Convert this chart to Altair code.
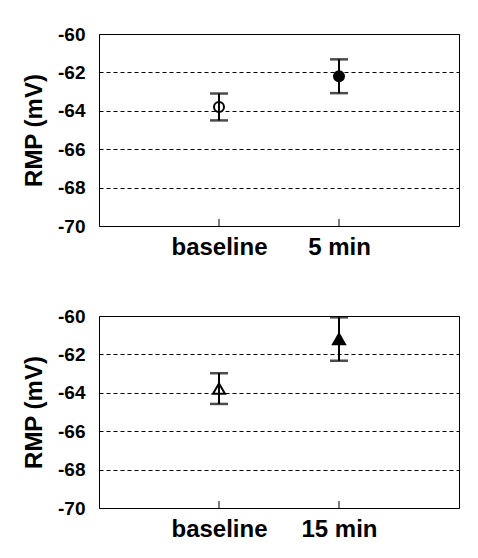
import altair as alt
import pandas as pd

# ---- data ----
top_labels = ["baseline", "5 min"]
top_means = [-63.8, -62.2]
top_sem = [0.7, 0.88]

bottom_labels = ["baseline", "15 min"]
bottom_means = [-63.78, -61.2]
bottom_sem = [0.8, 1.13]

y_ticks = [-70, -68, -66, -64, -62, -60]
y_title = "RMP (mV)"

FONT = "Liberation Sans"


def make_df(labels, means, sems):
    return pd.DataFrame({
        "label": labels,
        "mean": means,
        "lo": [m - s for m, s in zip(means, sems)],
        "hi": [m + s for m, s in zip(means, sems)],
    })


def y_axis():
    return alt.Axis(values=y_ticks, title=y_title, ticks=False, domain=False,
                    labelExpr="replace(format(datum.value, 'd'), '\u2212', '-')",
                    labelOverlap=False,
                    grid=True, gridColor="black", gridDash=[4, 3], gridWidth=1,
                    gridOpacity=1,
                    labelFont=FONT, labelFontSize=19, labelFontWeight="bold",
                    labelColor="black", labelPadding=14,
                    titleFont=FONT, titleFontSize=24, titleFontWeight="bold",
                    titleColor="black", titlePadding=11)


def panel(df, shape, size):
    order = list(df["label"])
    xenc = alt.X("label:N", sort=order,
                 scale=alt.Scale(type="point", padding=1),
                 axis=alt.Axis(title=None, ticks=False, domain=False, labelAngle=0,
                               labelFont=FONT, labelFontSize=24, labelFontWeight="bold",
                               labelColor="black", labelPadding=9, grid=False))
    yscale = alt.Scale(domain=[-70, -60], nice=False, zero=False)
    base = alt.Chart(df)
    pts = base.mark_point(shape=shape, size=size, stroke="black", strokeWidth=2,
                          filled=True, opacity=1).encode(
        x=xenc,
        y=alt.Y("mean:Q", scale=yscale, axis=y_axis()),
        fill=alt.condition(alt.datum.label == "baseline", alt.value("transparent"), alt.value("black")),
    )
    err = base.mark_errorbar(orient="vertical", ticks={"size": 18, "thickness": 2.5, "color": "black"},
                             rule={"strokeWidth": 2, "color": "black"}).encode(
        x=alt.X("label:N", sort=order),
        y=alt.Y("lo:Q", scale=yscale, axis=y_axis()),
        y2="hi:Q",
    )
    tk = base.mark_rule(color="black", strokeWidth=1).encode(
        x=alt.X("label:N", sort=order),
        y=alt.value(192),
        y2=alt.value(185),
    )
    return alt.layer(pts, err, tk).properties(width=360, height=192)


top = panel(make_df(top_labels, top_means, top_sem), "circle", 100)
bottom = panel(make_df(bottom_labels, bottom_means, bottom_sem), "triangle-up", 144)

chart = alt.vconcat(top, bottom, spacing=46).properties(
    padding={"left": 14, "top": 16, "right": 5, "bottom": 5}
).configure(
    background="white",
    view=alt.ViewConfig(stroke="black", strokeWidth=1),
)

chart.save("out.html", embed_options={"renderer": "svg", "actions": False})
